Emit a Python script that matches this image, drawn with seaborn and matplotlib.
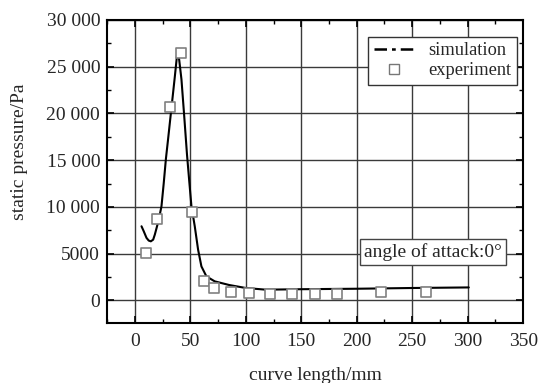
import numpy as np
import pandas as pd
import seaborn as sns
from matplotlib import pyplot as plt
from matplotlib.ticker import MultipleLocator, FuncFormatter
from matplotlib.lines import Line2D

# simulation curve
sim_x = [6, 8, 10.5, 12.5, 14.4, 16.5, 18, 20.4, 22, 24, 26, 28, 30, 32, 34, 36, 38, 39,
         40, 42, 44.5, 47, 49, 51, 54, 57, 60, 64.5, 72, 85, 100, 118, 150, 200, 250, 301]
sim_p = [7930, 7400, 6690, 6400, 6320, 6500, 7040, 8110, 8900, 10070, 12500, 15150, 17300,
         19500, 21700, 23900, 26200, 26450, 25700, 23650, 19700, 15600, 12800, 10070, 7930,
         5430, 3640, 2570, 2040, 1650, 1330, 1150, 1200, 1250, 1330, 1390]

# experiment points
exp_x = [9.9, 20.4, 31.5, 42, 51.8, 62.3, 71.3, 87, 102.5, 122, 142, 162, 182, 222, 262]
exp_p = [5080, 8720, 20700, 26450, 9430, 2040, 1330, 860, 790, 690, 690, 690, 690, 900, 860]

xticks = [0, 50, 100, 150, 200, 250, 300, 350]
yticks = [0, 5000, 10000, 15000, 20000, 25000, 30000]

sns.set_style("ticks")
plt.rcParams['font.family'] = ['Liberation Serif', 'DejaVu Serif']

sim = pd.DataFrame({'x': sim_x, 'p': sim_p})
exp = pd.DataFrame({'x': exp_x, 'p': exp_p})

fig = plt.figure(figsize=(5.41, 3.83), dpi=100)
ax = fig.add_axes([0.198, 0.157, 0.769, 0.791])

ax.grid(True, color='#3a3a3a', linewidth=1.0)
ax.set_axisbelow(True)

sns.lineplot(data=sim, x='x', y='p', ax=ax, color='black', linewidth=1.5,
             legend=False, zorder=3)
sns.scatterplot(data=exp, x='x', y='p', ax=ax, marker='s', s=60,
                facecolor='white', edgecolor='#808080', linewidth=1.2,
                legend=False, zorder=4)

ax.set_xlim(-25, 350)
ax.set_ylim(-2400, 30000)
ax.set_xticks(xticks)
ax.set_yticks(yticks)
ax.xaxis.set_minor_locator(MultipleLocator(25))
ax.yaxis.set_minor_locator(MultipleLocator(2500))


def fmt(v, pos):
    v = int(v)
    if v >= 10000:
        return f"{v // 1000} {v % 1000:03d}"
    return str(v)


ax.yaxis.set_major_formatter(FuncFormatter(fmt))
ax.tick_params(which='both', direction='in', top=True, right=True, labelsize=14, color='black')
ax.tick_params(which='major', length=5, width=1.2)
ax.tick_params(axis='x', which='major', pad=7)
ax.tick_params(axis='y', which='major', pad=5)
ax.tick_params(which='minor', length=3, width=1.0)
for sp in ax.spines.values():
    sp.set_linewidth(1.5)
    sp.set_color('black')
    sp.set_visible(True)

ax.set_xlabel('curve length/mm', fontsize=14)
ax.xaxis.set_label_coords(0.5, -0.145)
ax.set_ylabel('static pressure/Pa', fontsize=14)
ax.yaxis.set_label_coords(-0.19, 0.565)

handles = [Line2D([], [], color='black', linewidth=1.8, linestyle=(0, (5, 2, 1.5, 2))),
           Line2D([], [], marker='s', linestyle='none', markerfacecolor='white',
                  markeredgecolor='#777777', markersize=7)]
leg = ax.legend(handles, ['simulation', 'experiment'], loc='upper right',
                bbox_to_anchor=(0.986, 0.944), borderaxespad=0, fontsize=13.2,
                frameon=True, fancybox=False, edgecolor='#333333', framealpha=1,
                handlelength=2.2, borderpad=0.3, labelspacing=0.15, handletextpad=0.8)
leg.get_frame().set_linewidth(1.0)

ax.text(269, 5200, 'angle of attack:0°', fontsize=14, ha='center', va='center',
        bbox=dict(boxstyle='square,pad=0.2', facecolor='white', edgecolor='#444444', linewidth=1.0),
        zorder=5)

fig.savefig('out.png', dpi=100)
